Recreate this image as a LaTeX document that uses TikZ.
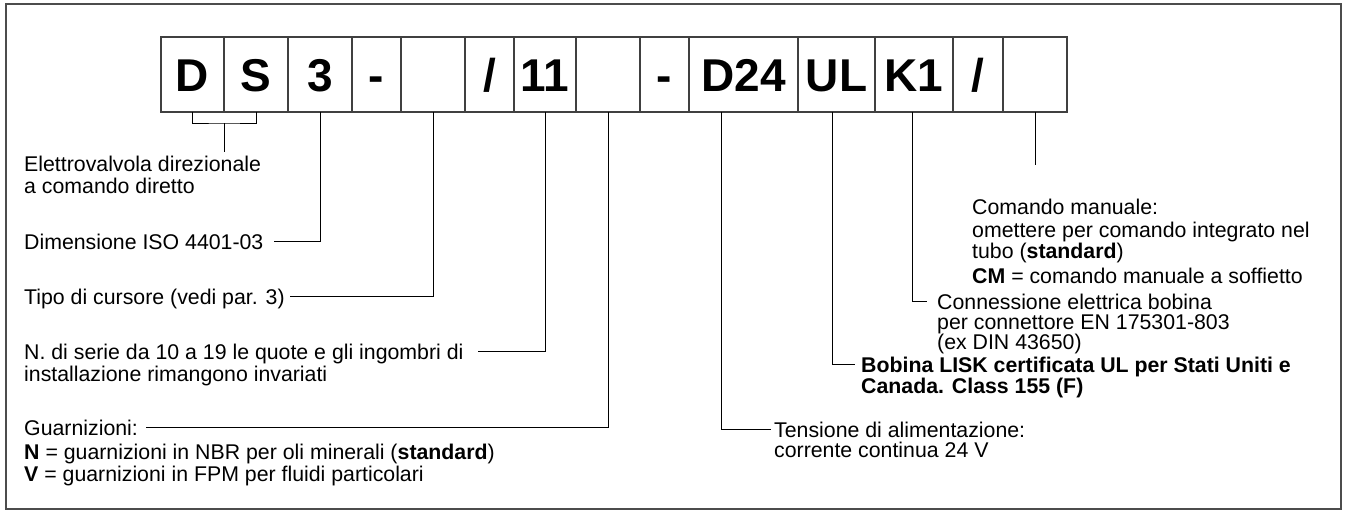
\documentclass[tikz,border=0pt]{standalone}
\usepackage{fontspec}
\setmainfont{Liberation Sans}
\usetikzlibrary{positioning,calc}
\tikzset{
    cell/.style={
           rectangle,
           draw=black!75, line width=1.2pt,
           minimum height=75pt,
           inner sep=0pt, outer sep=0pt,
           text height=33pt, text depth=0pt,
           font=\fontsize{46}{46}\selectfont\bfseries,
           },
    note/.style={
           inner sep=0pt,
           anchor=north west,
           align=left,
           font=\fontsize{21.3}{19.5}\selectfont,
           },
    lead/.style={draw=black, line width=1pt},
}

\begin{document}
\begin{tikzpicture}[x=1pt,y=-1pt]

 % page and outer frame
 \useasboundingbox (0,0) rectangle (1346,512);
 \draw[black!70, line width=1.8pt] (6,4) rectangle (1341,509);

 % the code, one box per field (left to right)
 \node[cell, minimum width=63pt, anchor=north west] (D) at (161,37) {D};
 \node[cell, minimum width=64pt, right=0pt of D] (S) {S};
 \node[cell, minimum width=64pt, right=0pt of S] (SIZE) {3};
 \node[cell, minimum width=49pt, right=0pt of SIZE] (DASHA) {-};
 \node[cell, minimum width=64pt, right=0pt of DASHA] (SPOOL) {};
 \node[cell, minimum width=49pt, right=0pt of SPOOL] (SLASHA) {/};
 \node[cell, minimum width=62pt, right=0pt of SLASHA] (SERIES) {11};
 \node[cell, minimum width=64pt, right=0pt of SERIES] (SEALS) {};
 \node[cell, minimum width=49pt, right=0pt of SEALS] (DASHB) {-};
 \node[cell, minimum width=109pt, right=0pt of DASHB] (VOLT) {D24};
 \node[cell, minimum width=77pt, right=0pt of VOLT] (UL) {UL};
 \node[cell, minimum width=78pt, right=0pt of UL] (PLUG) {K1};
 \node[cell, minimum width=50pt, right=0pt of PLUG] (SLASHB) {/};
 \node[cell, minimum width=64pt, right=0pt of SLASHB] (MANUAL) {};

 % descriptions on the left
 \node[note] (ELET) at (24,156)
  {Elettrovalvola direzionale\\[2.5pt]a comando diretto};
 \node[note] (DIM) at (24,234) {Dimensione ISO 4401-03};
 \node[note] (TYPE) at (24,289) {Tipo di cursore (vedi par. 3)};
 \node[note] (SER) at (24,344)
  {N. di serie da 10 a 19 le quote e gli ingombri di\\[1.5pt]installazione rimangono invariati};
 \node[note] (GASK) at (24,420) {Guarnizioni:};
 \node[note] (GASKOPT) at (24,444)
  {\textbf{N} = guarnizioni in NBR per oli minerali (\textbf{standard})\\[1pt]
   \textbf{V} = guarnizioni in FPM per fluidi particolari};

 % descriptions on the right
 \node[note] (MANTXT) at (972,199)
  {Comando manuale:\\[3.5pt]
   omettere per comando integrato nel\\[0.5pt]
   tubo (\textbf{standard})\\[4pt]
   \textbf{CM} = comando manuale a soffietto};
 \node[note] (PLUGTXT) at (937,294)
  {Connessione elettrica bobina\\per connettore EN 175301-803\\(ex DIN 43650)};
 \node[note, font=\fontsize{21.3}{21}\selectfont\bfseries] (ULTXT) at (861,357)
  {Bobina LISK certificata UL per Stati Uniti e\\Canada. Class 155 (F)};
 \node[note] (VOLTTXT) at (774,422)
  {Tensione di alimentazione:\\corrente continua 24 V};

 % leaders from the boxes to the texts
 \coordinate (DS) at ($(D.south)!.5!(S.south)+(0,11)$);
 \draw[lead] (D.south) |- (DS) -| (S.south);
 \draw[lead, shorten >=4pt] (DS) -- (DS |- ELET.north);
 \draw[lead, shorten >=10pt] (SIZE.south) |- ([yshift=-7.5pt]DIM.north east);
 \draw[lead, shorten >=5pt] (SPOOL.south) |- ([yshift=-7.5pt]TYPE.north east);
 \draw[lead, shorten >=14pt] (SERIES.south) |- ([yshift=-7.5pt]SER.north east);
 \draw[lead, shorten >=8pt] (SEALS.south) |- ([yshift=-7.5pt]GASK.north east);
 \draw[lead, shorten >=3pt] ([xshift=-22pt]VOLT.south) |- ([yshift=-7.5pt]VOLTTXT.north west);
 \draw[lead, shorten >=6pt] ([xshift=-4pt]UL.south) |- ([yshift=-7.5pt]ULTXT.north west);
 \draw[lead, shorten >=10pt] ([xshift=-2pt]PLUG.south) |- ([yshift=-7.5pt]PLUGTXT.north west);
 \draw[lead, shorten >=34pt] (MANUAL.south) -- (MANUAL.south |- MANTXT.north);

\end{tikzpicture}
\end{document}
